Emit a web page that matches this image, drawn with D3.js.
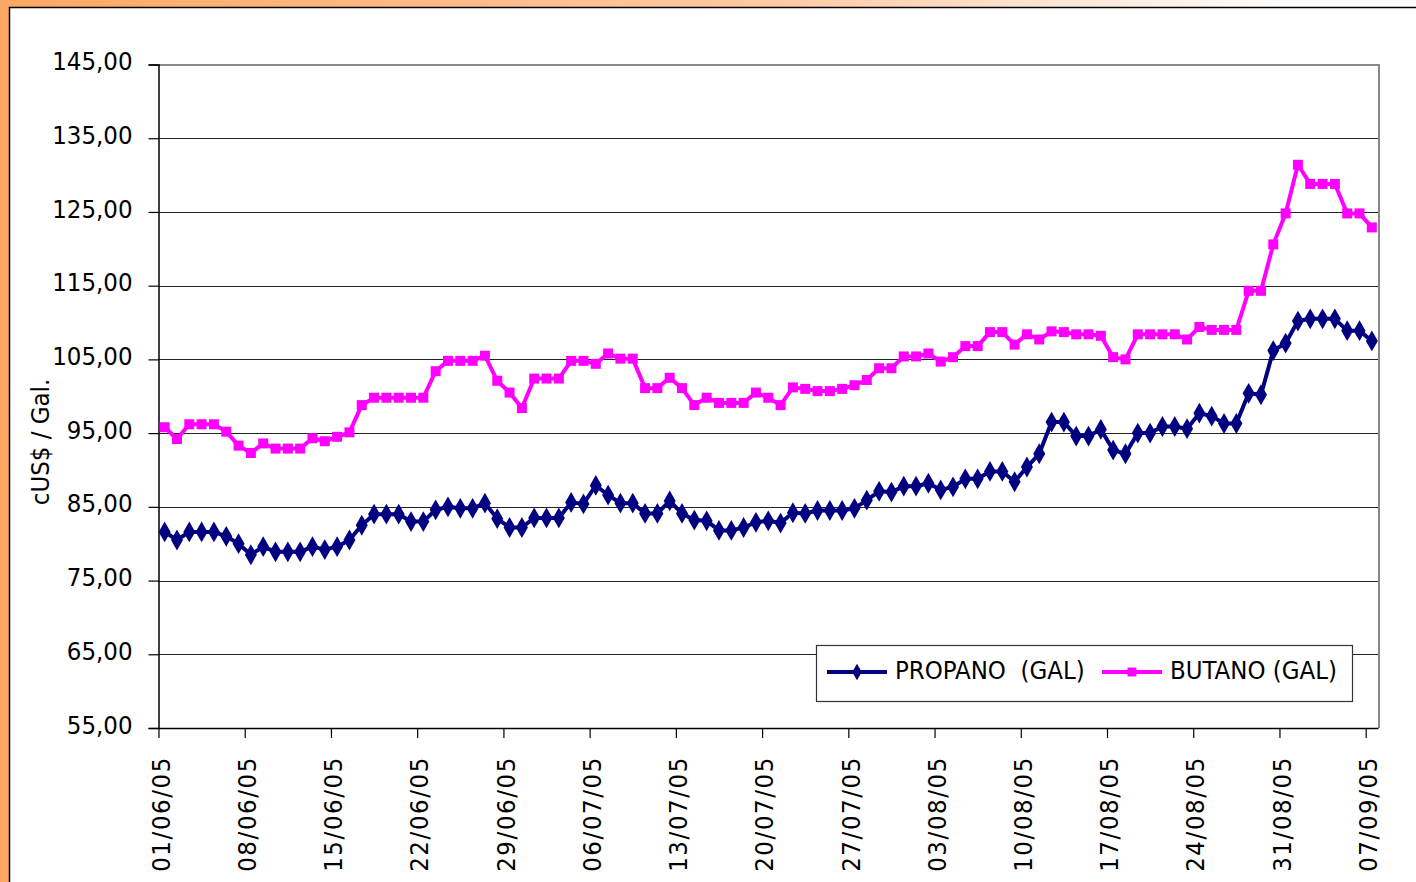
<!DOCTYPE html>
<html>
<head>
<meta charset="utf-8">
<script src="https://cdn.jsdelivr.net/npm/d3@7"></script>
<style>
   body { margin: 0; background: #ffffff; }
   text { font-family: "DejaVu Sans Condensed", "DejaVu Sans", sans-serif; font-stretch: condensed; fill: #000; }
</style>
</head>
<body>
<div id="chart"></div>
<script>
// daily prices, cUS$ per gallon, 01/06/05 .. 07/09/05
var startDay = "01/06/05",
   endDay = "07/09/05";

var tickLabels = ["01/06/05", "08/06/05", "15/06/05", "22/06/05", "29/06/05", "06/07/05", "13/07/05",
   "20/07/05", "27/07/05", "03/08/05", "10/08/05", "17/08/05", "24/08/05", "31/08/05", "07/09/05"];

var yTicks = [55, 65, 75, 85, 95, 105, 115, 125, 135, 145];

var propano = [
   81.6, 80.5, 81.6, 81.6, 81.6, 81.0, 80.0, 78.5, 79.6, 78.9,
   78.9, 78.9, 79.6, 79.2, 79.6, 80.5, 82.5, 84.0, 84.0, 84.0,
   83.0, 83.0, 84.6, 85.0, 84.8, 84.8, 85.5, 83.4, 82.2, 82.2,
   83.5, 83.5, 83.5, 85.6, 85.4, 87.9, 86.6, 85.5, 85.5, 84.1,
   84.1, 85.8, 84.1, 83.2, 83.1, 81.8, 81.8, 82.2, 82.9, 83.1,
   82.8, 84.2, 84.1, 84.5, 84.5, 84.5, 84.8, 85.9, 87.1, 87.0,
   87.8, 87.8, 88.2, 87.3, 87.7, 88.8, 88.8, 89.8, 89.8, 88.4,
   90.4, 92.2, 96.5, 96.5, 94.6, 94.6, 95.5, 92.7, 92.2, 95.0,
   95.0, 95.9, 95.9, 95.6, 97.7, 97.3, 96.3, 96.3, 100.4, 100.2,
   106.2, 107.2, 110.2, 110.5, 110.5, 110.5, 108.9, 108.9, 107.5
];

var butano = [
   95.8, 94.2, 96.2, 96.2, 96.2, 95.2, 93.3, 92.3, 93.6, 92.9,
   92.9, 92.9, 94.3, 93.9, 94.5, 95.1, 98.8, 99.8, 99.8, 99.8,
   99.8, 99.8, 103.4, 104.8, 104.8, 104.8, 105.5, 102.1, 100.5, 98.4,
   102.4, 102.4, 102.4, 104.8, 104.8, 104.4, 105.8, 105.1, 105.1, 101.1,
   101.1, 102.5, 101.1, 98.8, 99.8, 99.1, 99.1, 99.1, 100.5, 99.8,
   98.8, 101.2, 101.0, 100.7, 100.7, 101.0, 101.5, 102.2, 103.8, 103.8,
   105.4, 105.4, 105.8, 104.7, 105.3, 106.8, 106.8, 108.7, 108.7, 107.0,
   108.4, 107.7, 108.8, 108.7, 108.4, 108.4, 108.2, 105.3, 105.0, 108.4,
   108.4, 108.4, 108.4, 107.7, 109.4, 109.0, 109.0, 109.0, 114.3, 114.3,
   120.6, 124.8, 131.4, 128.8, 128.8, 128.8, 124.8, 124.8, 122.9
];

var seriesNames = ["PROPANO  (GAL)", "BUTANO (GAL)"];
var seriesColors = ["#000080", "#ff00ff"];

var width = 1416,
   height = 882;

var plot = { left: 158.5, right: 1378, top: 64.5, bottom: 728 };

var parseDay = d3.timeParse("%d/%m/%y"),
   formatDay = d3.timeFormat("%d/%m/%y");

var days = d3.timeDay.range(parseDay(startDay), d3.timeDay.offset(parseDay(endDay), 1));

// date axis, each day a slot, points in the middle of the slot
var x = d3.scaleTime()
   .domain([parseDay(startDay), d3.timeDay.offset(parseDay(endDay), 1)])
   .range([plot.left, plot.right]);

var y = d3.scaleLinear()
   .domain([55, 145])
   .range([plot.bottom, plot.top]);

function xMid(d) { return x(d3.timeHour.offset(d, 12)); }

var svg = d3.select("#chart").append("svg")
   .attr("width", width)
   .attr("height", height);

// frame: orange strips + black border
var grad = svg.append("defs").append("linearGradient")
   .attr("id", "topfade")
   .attr("x1", "0%").attr("x2", "100%");
grad.append("stop").attr("offset", "0%").attr("stop-color", "#ffa863");
grad.append("stop").attr("offset", "55%").attr("stop-color", "#ffc9a3");
grad.append("stop").attr("offset", "92%").attr("stop-color", "#ffffff");

svg.append("rect").attr("x", 0).attr("y", 0).attr("width", width).attr("height", 7).attr("fill", "url(#topfade)");
svg.append("rect").attr("x", 0).attr("y", 0).attr("width", 9).attr("height", height).attr("fill", "#ffa863");
svg.append("path")
   .attr("d", "M9.5," + height + "V7.5H" + width)
   .attr("fill", "none")
   .attr("stroke", "#000")
   .attr("stroke-width", 1.5);

// gridlines
svg.append("g")
   .selectAll("line")
   .data(yTicks.slice(1, -1))
   .enter().append("line")
   .attr("x1", plot.left).attr("x2", plot.right)
   .attr("y1", function(d) { return Math.round(y(d)) + 0.5; })
   .attr("y2", function(d) { return Math.round(y(d)) + 0.5; })
   .attr("stroke", "#222")
   .attr("stroke-width", 1.2);

// top and right border of plot area
svg.append("path")
   .attr("d", "M" + plot.left + "," + (plot.top + 0.5) + "H" + (plot.right + 1) + "V" + plot.bottom)
   .attr("fill", "none")
   .attr("stroke", "#888")
   .attr("stroke-width", 2);

var fmtY = function(d) { return d3.format(".2f")(d).replace(".", ","); };

var yAxis = svg.append("g")
   .attr("transform", "translate(" + plot.left + ",0)")
   .call(d3.axisLeft(y).tickValues(yTicks).tickFormat(fmtY).tickSize(10).tickPadding(16));
yAxis.select(".domain").attr("stroke", "#000").attr("stroke-width", 1.5);
yAxis.selectAll(".tick line").attr("stroke", "#000").attr("stroke-width", 1.2);
yAxis.selectAll(".tick text")
   .attr("font-size", 25.5)
   .attr("dy", "0.2em");

var xAxis = svg.append("g")
   .attr("transform", "translate(0," + plot.bottom + ")")
   .call(d3.axisBottom(x).tickValues(tickLabels.map(parseDay)).tickFormat(formatDay).tickSize(10).tickSizeOuter(0));
xAxis.select(".domain").attr("stroke", "#000").attr("stroke-width", 1.5);
xAxis.selectAll(".tick line").attr("stroke", "#000").attr("stroke-width", 1.2);
xAxis.selectAll(".tick text")
   .attr("font-size", 25.5)
   .attr("letter-spacing", 1.6)
   .attr("transform", "rotate(-90)")
   .attr("text-anchor", "end")
   .attr("x", -28)
   .attr("y", 1.5)
   .attr("dy", "0.36em");

svg.append("text")
   .attr("transform", "translate(40,442) rotate(-90)")
   .attr("text-anchor", "middle")
   .attr("dy", "0.36em")
   .attr("font-size", 25.5)
   .text("cUS$ / Gal.");

// series
var line = d3.line()
   .x(function(d, i) { return xMid(days[i]); })
   .y(function(d) { return y(d); });

var diamond = d3.symbol().type(d3.symbolDiamond).size(125);
var square = d3.symbol().type(d3.symbolSquare).size(100);

[propano, butano].forEach(function(vals, k) {
   var g = svg.append("g");
   g.append("path")
      .attr("d", line(vals))
      .attr("fill", "none")
      .attr("stroke", seriesColors[k])
      .attr("stroke-width", 4)
      .attr("stroke-linejoin", "round");
   g.selectAll("path.mark")
      .data(vals)
      .enter().append("path")
      .attr("class", "mark")
      .attr("transform", function(d, i) { return "translate(" + xMid(days[i]) + "," + y(d) + ")"; })
      .attr("d", k === 0 ? diamond : square)
      .attr("fill", seriesColors[k]);
});

// legend
var legend = svg.append("g");
legend.append("rect")
   .attr("x", 816.5).attr("y", 645.5)
   .attr("width", 536).attr("height", 56)
   .attr("fill", "#fff")
   .attr("stroke", "#333")
   .attr("stroke-width", 1.2);

var legendX = [827, 1102];
seriesNames.forEach(function(name, k) {
   var lx = legendX[k];
   legend.append("line")
      .attr("x1", lx).attr("x2", lx + 60)
      .attr("y1", 672).attr("y2", 672)
      .attr("stroke", seriesColors[k])
      .attr("stroke-width", 4);
   legend.append("path")
      .attr("transform", "translate(" + (lx + 30) + ",672)")
      .attr("d", k === 0 ? d3.symbol().type(d3.symbolDiamond).size(80) : d3.symbol().type(d3.symbolSquare).size(80))
      .attr("fill", seriesColors[k]);
   legend.append("text")
      .attr("x", lx + 68)
      .attr("y", 679)
      .attr("font-size", 25.5)
      .style("white-space", "pre")
      .text(name);
});
</script>
</body>
</html>
